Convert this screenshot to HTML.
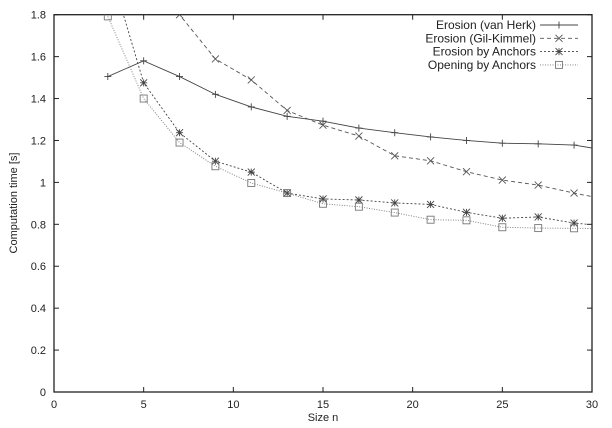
<!DOCTYPE html>
<html><head><meta charset="utf-8"><style>
body{margin:0;background:#fff}
svg{display:block;font-family:"Liberation Sans",sans-serif}
</style></head><body>
<svg id="c" width="612" height="428"></svg>
<script>
const sizes=[3,5,7,9,11,13,15,17,19,21,23,25,27,29,31];
const vanHerk=[1.505,1.58,1.505,1.42,1.36,1.315,1.292,1.259,1.237,1.217,1.2,1.187,1.184,1.178,1.15];
const gilKimmel=[3.0,2.3,1.8,1.589,1.489,1.343,1.273,1.221,1.127,1.103,1.051,1.011,0.987,0.949,0.915];
const anchors=[2.05,1.475,1.237,1.101,1.049,0.949,0.921,0.916,0.902,0.895,0.857,0.829,0.835,0.806,0.79];
const opening=[1.792,1.40,1.19,1.077,0.997,0.949,0.898,0.884,0.856,0.822,0.819,0.786,0.782,0.781,0.78];
const xTicks=[0,5,10,15,20,25,30];
const yTicks=[0,0.2,0.4,0.6,0.8,1,1.2,1.4,1.6,1.8];
const X0=54,X1=592,Y0=392,Y1=14.7;
const sx=v=>X0+(v-0)/30*(X1-X0);
const sy=v=>Y0-(v/1.8)*(Y0-Y1);
const NS="http://www.w3.org/2000/svg";
const svg=document.getElementById('c');
function mk(t,a,p){const e=document.createElementNS(NS,t);for(const k in a)e.setAttribute(k,a[k]);(p||svg).appendChild(e);return e;}
const defs=mk('defs',{});
const cp=mk('clipPath',{id:'cp'},defs);
mk('rect',{x:X0,y:Y1,width:X1-X0,height:Y0-Y1},cp);
const frame=mk('rect',{x:X0,y:Y1,width:X1-X0,height:Y0-Y1,fill:'none',stroke:'#222','stroke-width':1.3});


xTicks.forEach(t=>{
  const x=sx(t);
  mk('line',{x1:x,y1:Y0,x2:x,y2:Y0-5,stroke:'#222'});
  mk('line',{x1:x,y1:Y1,x2:x,y2:Y1+5,stroke:'#222'});
  const tx=mk('text',{x:x,y:Y0+16,'text-anchor':'middle','font-size':11,fill:'#222'});
  tx.textContent=t;
  
  
});
yTicks.forEach(t=>{
  const y=sy(t);
  mk('line',{x1:X0,y1:y,x2:X0+5,y2:y,stroke:'#222'});
  mk('line',{x1:X1,y1:y,x2:X1-5,y2:y,stroke:'#222'});
  const tx=mk('text',{x:X0-8,y:y+4,'text-anchor':'end','font-size':11,fill:'#222'});
  tx.textContent=t;
  
  
});
const xt=mk('text',{x:323,y:421,'text-anchor':'middle','font-size':11,fill:'#222'});
xt.textContent='Size n';


const yt=mk('text',{x:0,y:0,'text-anchor':'middle','font-size':11,fill:'#222',transform:'translate(17,203) rotate(-90)'});
yt.textContent='Computation time [s]';


function marker(g,type,x,y,col){
  const s=3.5;
  if(type==='plus'){mk('path',{d:`M${x-s},${y}H${x+s}M${x},${y-s}V${y+s}`,stroke:col,fill:'none','stroke-width':0.9},g);}
  else if(type==='x'){mk('path',{d:`M${x-s},${y-s}L${x+s},${y+s}M${x-s},${y+s}L${x+s},${y-s}`,stroke:col,fill:'none','stroke-width':0.9},g);}
  else if(type==='star'){mk('path',{d:`M${x-s},${y}H${x+s}M${x},${y-s}V${y+s}M${x-s},${y-s}L${x+s},${y+s}M${x-s},${y+s}L${x+s},${y-s}`,stroke:col,fill:'none','stroke-width':0.9},g);}
  else {mk('rect',{x:x-s,y:y-s,width:2*s,height:2*s,stroke:col,fill:'none','stroke-width':0.9},g);}
}
const series=[
  {name:'Erosion (van Herk)',vals:vanHerk,col:'#444',dash:'',m:'plus',id:'series-van-herk'},
  {name:'Erosion (Gil-Kimmel)',vals:gilKimmel,col:'#555',dash:'4,3',m:'x',id:'series-gil-kimmel'},
  {name:'Erosion by Anchors',vals:anchors,col:'#444',dash:'2,2',m:'star',id:'series-erosion-anchors'},
  {name:'Opening by Anchors',vals:opening,col:'#777',dash:'1,1.5',m:'square',id:'series-opening-anchors'}
];
series.forEach((s,i)=>{
  const g=mk('g',{'clip-path':'url(#cp)'});
  
  
  const pts=sizes.map((n,j)=>sx(n)+','+sy(s.vals[j])).join(' ');
  mk('polyline',{points:pts,fill:'none',stroke:s.col,'stroke-width':0.9,'stroke-dasharray':s.dash},g);
  sizes.forEach((n,j)=>marker(g,s.m,sx(n),sy(s.vals[j]),s.col));
  const ly=25+i*13.3;
  const lg=mk('g',{});
  
  
  const lt=mk('text',{x:536,y:ly+4,'text-anchor':'end','font-size':12,fill:'#222'},lg);
  lt.textContent=s.name;
  mk('line',{x1:540,y1:ly,x2:578,y2:ly,stroke:s.col,'stroke-width':0.9,'stroke-dasharray':s.dash},lg);
  marker(lg,s.m,559,ly,s.col);
});
</script>
</body></html>
